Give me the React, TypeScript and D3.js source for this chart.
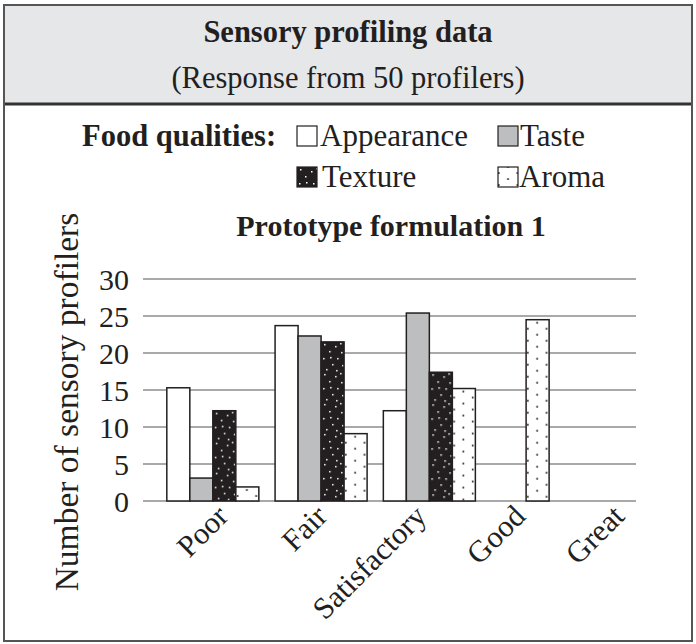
import React from "react";
import * as d3 from "d3";

// Rating categories along the x axis
const categories = ["Poor", "Fair", "Satisfactory", "Good", "Great"];
// Food qualities (series)
const qualities = ["Appearance", "Taste", "Texture", "Aroma"];
// Number of sensory profilers per rating, one array per quality (null = no bar)
const appearance: (number | null)[] = [15.3, 23.7, 12.2, null, null];
const taste: (number | null)[] = [3.1, 22.3, 25.4, null, null];
const texture: (number | null)[] = [12.2, 21.5, 17.4, null, null];
const aroma: (number | null)[] = [1.9, 9.1, 15.2, 24.5, null];
const yTicks = [0, 5, 10, 15, 20, 25, 30];

const valuesByQuality: Record<string, (number | null)[]> = {
  Appearance: appearance,
  Taste: taste,
  Texture: texture,
  Aroma: aroma,
};

const W = 696;
const H = 644;
const FONT = "'Liberation Serif', 'Times New Roman', serif";
const INK = "#231f20";

// white speckles on the black texture fill
const speckles = [
  [3, 2], [14, 4], [20, 10], [8, 9], [2, 16], [16, 16],
  [11, 22], [21, 23], [5, 27], [15, 28], [19, 1], [9, 15],
];

export default function App() {
  const y = d3.scaleLinear().domain([0, 30]).range([501, 279]);
  const plotX0 = 143;
  const plotX1 = 636;
  const x = d3.scaleBand<string>().domain(categories).range([158.7, 700]);
  const slot = x.bandwidth() * 0.2125;
  const labelX = d3.scalePoint<string>().domain(categories).range([230, 626]);

  const bars: { key: string; q: string; x: number; y: number; w: number; h: number }[] = [];
  categories.forEach((c, i) => {
    const present = qualities.filter((q) => valuesByQuality[q][i] != null);
    const inner = d3
      .scaleBand<string>()
      .domain(present)
      .range([-(slot * present.length) / 2, (slot * present.length) / 2]);
    const cx = (x(c) ?? 0) + x.bandwidth() / 2;
    present.forEach((q) => {
      const v = valuesByQuality[q][i] as number;
      bars.push({
        key: `${c}-${q}`,
        q,
        x: cx + (inner(q) ?? 0),
        y: y(v),
        w: inner.bandwidth(),
        h: y(0) - y(v),
      });
    });
  });

  const fillFor = (q: string, id: string) => {
    if (q === "Appearance") return "#ffffff";
    if (q === "Taste") return "#bcbec0";
    return `url(#${id})`;
  };

  const texturePattern = (id: string, px: number, py: number) => (
    <pattern key={id} id={id} patternUnits="userSpaceOnUse" x={px} y={py} width={24} height={30}>
      <rect width={24} height={30} fill={INK} />
      {speckles.map(([sx, sy], k) => (
        <rect key={k} x={sx} y={sy} width={1.5} height={1.5} fill="#ffffff" />
      ))}
    </pattern>
  );
  const aromaPattern = (id: string, px: number, py: number) => (
    <pattern key={id} id={id} patternUnits="userSpaceOnUse" x={px} y={py} width={18.6} height={12}>
      <rect width={18.6} height={12} fill="#ffffff" />
      <rect x={0.9} y={8.2} width={1.7} height={1.7} fill={INK} />
      <rect x={10.2} y={2.2} width={1.7} height={1.7} fill={INK} />
    </pattern>
  );

  const legend = [
    { q: "Appearance", bx: 297, by: 126, tx: 320, ty: 146 },
    { q: "Taste", bx: 498, by: 126, tx: 520, ty: 146 },
    { q: "Texture", bx: 297, by: 167, tx: 322, ty: 187 },
    { q: "Aroma", bx: 498, by: 167, tx: 519, ty: 187 },
  ];

  return (
    <svg
      width={W}
      height={H}
      style={{ position: "absolute", left: 0, top: 0, background: "#ffffff" }}
      fontFamily={FONT}
    >
      <defs>
        {bars.map((b) =>
          b.q === "Texture"
            ? texturePattern(`p-${b.key}`, b.x, b.y)
            : b.q === "Aroma"
            ? aromaPattern(`p-${b.key}`, b.x, b.y)
            : null
        )}
        {texturePattern("lg-Texture", 297, 167)}
        {aromaPattern("lg-Aroma", 497, 164)}
      </defs>

      {/* header band */}
      <rect x={4} y={5} width={688} height={99} fill="#e6e7e8" />
      <line x1={4} x2={692} y1={104} y2={104} stroke="#333" strokeWidth={3} />
      <rect x={4} y={5} width={688} height={636} fill="none" stroke="#555" strokeWidth={2} />

      <text x={348} y={42} textAnchor="middle" fontSize={30.5} fontWeight="bold" fill={INK}>
        Sensory profiling data
      </text>
      <text x={348} y={88} textAnchor="middle" fontSize={30.5} fill={INK}>
        (Response from 50 profilers)
      </text>

      {/* legend */}
      <text x={82} y={146} fontSize={30.5} fontWeight="bold" fill={INK}>
        Food qualities:
      </text>
      {legend.map((l) => (
        <g key={l.q}>
          <rect
            x={l.bx}
            y={l.by}
            width={20}
            height={20}
            fill={fillFor(l.q, `lg-${l.q}`)}
            stroke={INK}
            strokeWidth={1.2}
          />
          <text x={l.tx} y={l.ty} fontSize={31} fill={INK}>
            {l.q}
          </text>
        </g>
      ))}

      <text x={391} y={236} textAnchor="middle" fontSize={30} fontWeight="bold" fill={INK}>
        Prototype formulation 1
      </text>

      {/* gridlines and y ticks */}
      {yTicks.map((t) => (
        <g key={t}>
          <line x1={plotX0} x2={plotX1} y1={y(t)} y2={y(t)} stroke="#8c8c8c" strokeWidth={1.5} />
          <text x={129} y={y(t)} dy="0.35em" textAnchor="end" fontSize={30} fill={INK}>
            {t}
          </text>
        </g>
      ))}

      <text
        transform={`translate(78,402) rotate(-90)`}
        textAnchor="middle"
        fontSize={33.5}
        fill={INK}
      >
        Number of sensory profilers
      </text>

      {/* bars */}
      {bars.map((b) => (
        <rect
          key={b.key}
          x={b.x}
          y={b.y}
          width={b.w}
          height={b.h}
          fill={fillFor(b.q, `p-${b.key}`)}
          stroke={INK}
          strokeWidth={1.5}
        />
      ))}

      {/* category labels */}
      {categories.map((c) => (
        <text
          key={c}
          transform={`translate(${labelX(c)},518) rotate(-45)`}
          textAnchor="end"
          fontSize={30.5}
          fill={INK}
        >
          {c}
        </text>
      ))}
    </svg>
  );
}
